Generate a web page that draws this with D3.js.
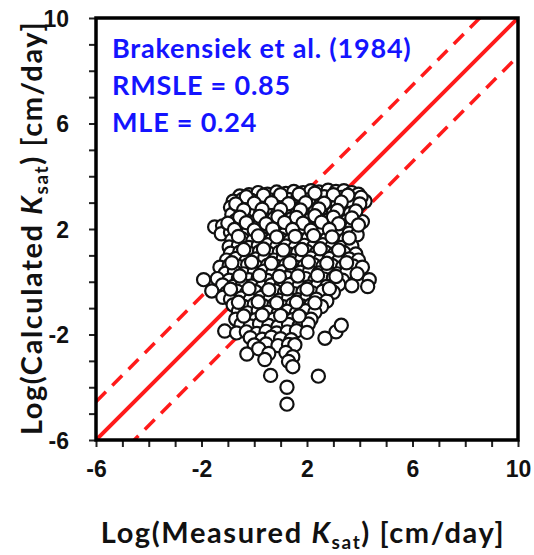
<!DOCTYPE html>
<html>
<head>
<meta charset="utf-8">
<script src="https://cdn.jsdelivr.net/npm/d3@7"></script>
<style>
  html, body { margin: 0; padding: 0; background: #fff; }
  svg { display: block; font-family: Lato, "Open Sans", "DejaVu Sans", sans-serif; }
</style>
</head>
<body>
<svg id="chart" width="534" height="555"></svg>
<script>
// ---- data ----
const axisDomain = [-6, 10];
const tickValues = [-6, -5, -4, -3, -2, -1, 0, 1, 2, 3, 4, 5, 6, 7, 8, 9, 10];
const tickLabels = ["-6", "-2", "2", "6", "10"];
const boundOffset = 1.45;   // dashed lines: 1:1 line shifted up / down
const annotations = ["Brakensiek et al. (1984)", "RMSLE = 0.85", "MLE = 0.24"];

// [Log(Measured Ksat), Log(Calculated Ksat)]
const points = [
  [-0.55,3.25],[-0.2,3.3],[0.15,3.38],[0.5,3.32],[0.85,3.4],[1.2,3.35],[1.5,3.42],[1.85,3.38],[2.15,3.45],[2.45,3.4],[2.8,3.47],[3.1,3.42],[3.4,3.45],[3.7,3.38],[3.95,3.32],
  [-0.8,3.05],[-0.45,3.12],[-0.1,3.08],[0.3,3.15],[0.6,3.1],[0.95,3.18],[1.3,3.12],[1.65,3.2],[2.0,3.1],[2.3,3.18],[2.65,3.22],[2.95,3.12],[3.3,3.2],[3.6,3.15],[3.9,3.1],[4.2,3.05],
  [-0.9,2.82],[-0.6,2.9],[-0.25,2.85],[0.1,2.8],[0.45,2.92],[0.8,2.86],[1.1,2.8],[1.45,2.9],[1.8,2.84],[2.1,2.95],[2.5,2.88],[2.8,2.82],[3.15,2.9],[3.45,2.85],[3.75,2.92],
  [-0.85,2.55],[-0.5,2.62],[-0.15,2.58],[0.25,2.65],[0.55,2.56],[0.9,2.62],[1.25,2.68],[1.6,2.55],[1.95,2.6],[2.3,2.66],[2.65,2.58],[3.0,2.62],[3.3,2.55],[3.65,2.6],
  [-0.7,2.32],[-0.35,2.38],[0.05,2.3],[0.4,2.36],[0.75,2.4],[1.05,2.32],[1.4,2.38],[1.75,2.3],[2.1,2.35],[2.45,2.4],[2.8,2.33],[3.15,2.38],[3.5,2.3],[3.85,2.35],[4.1,2.28],
  [-1.5,2.08],[-1.2,2.12],[-0.85,2.05],[-0.5,2.12],[-0.1,2.08],[0.2,2.15],[0.6,2.05],[0.95,2.12],[1.3,2.08],[1.65,2.14],[2.0,2.05],[2.35,2.1],[2.7,2.15],[3.0,2.06],[3.35,2.12],[3.7,2.08],
  [-1.25,1.82],[-0.9,1.88],[-0.6,1.8],[-0.25,1.86],[0.1,1.9],[0.45,1.82],[0.8,1.88],[1.15,1.8],[1.5,1.86],[1.85,1.9],[2.2,1.82],[2.55,1.88],[2.9,1.8],[3.25,1.86],[3.6,1.84],[3.9,1.78],
  [-0.85,1.58],[-0.45,1.62],[-0.05,1.56],[0.3,1.64],[0.65,1.58],[1.0,1.62],[1.35,1.55],[1.7,1.6],[2.05,1.65],[2.4,1.58],[2.75,1.62],[3.1,1.56],[3.45,1.6],
  [-0.95,1.32],[-0.6,1.38],[-0.2,1.3],[0.15,1.36],[0.5,1.4],[0.85,1.32],[1.2,1.36],[1.55,1.3],[1.9,1.38],[2.25,1.33],[2.6,1.4],[2.95,1.34],[3.3,1.3],[3.7,1.36],
  [-0.9,1.08],[-0.55,1.12],[-0.15,1.06],[0.2,1.14],[0.55,1.08],[0.95,1.12],[1.3,1.05],[1.65,1.1],[2.0,1.15],[2.35,1.08],[2.7,1.12],[3.05,1.06],[3.4,1.1],[3.85,1.05],
  [-1.05,0.82],[-0.7,0.88],[-0.3,0.8],[0.05,0.86],[0.4,0.9],[0.75,0.82],[1.1,0.88],[1.45,0.8],[1.8,0.86],[2.15,0.9],[2.5,0.83],[2.85,0.88],[3.2,0.8],[3.6,0.86],[3.95,0.82],
  [-1.3,0.55],[-0.95,0.62],[-0.6,0.58],[-0.25,0.64],[0.1,0.56],[0.5,0.62],[0.85,0.58],[1.2,0.64],[1.55,0.56],[1.9,0.6],[2.25,0.65],[2.6,0.58],[2.95,0.62],[3.35,0.56],[3.75,0.6],[4.1,0.55],
  [-1.1,0.32],[-0.75,0.38],[-0.4,0.3],[0.0,0.36],[0.35,0.4],[0.7,0.32],[1.05,0.38],[1.4,0.3],[1.75,0.36],[2.1,0.4],[2.45,0.33],[2.8,0.38],[3.15,0.3],[3.5,0.35],[3.9,0.3],
  [-1.92,0.08],[-1.4,0.12],[-0.95,0.06],[-0.6,0.12],[-0.2,0.08],[0.15,0.14],[0.5,0.05],[0.9,0.1],[1.25,0.15],[1.6,0.08],[1.95,0.12],[2.3,0.06],[2.65,0.1],[3.0,0.14],[3.35,0.06],[4.36,0.08],
  [-1.2,-0.12],[-0.8,-0.18],[-0.45,-0.1],[-0.1,-0.16],[0.3,-0.2],[0.65,-0.12],[1.0,-0.18],[1.35,-0.1],[1.7,-0.16],[2.05,-0.2],[2.4,-0.13],[2.75,-0.18],[3.2,-0.1],[3.7,-0.15],[4.3,-0.18],
  [-1.61,-0.35],[-1.05,-0.42],[-0.65,-0.36],[-0.3,-0.44],[0.05,-0.38],[0.45,-0.42],[0.8,-0.35],[1.15,-0.4],[1.5,-0.45],[1.85,-0.38],[2.2,-0.42],[2.6,-0.36],[3.0,-0.4],
  [-1.19,-0.59],[-0.9,-0.66],[-0.5,-0.62],[-0.15,-0.68],[0.25,-0.6],[0.6,-0.66],[0.95,-0.7],[1.3,-0.62],[1.65,-0.68],[2.0,-0.6],[2.35,-0.66],[2.75,-0.73],
  [-0.8,-0.88],[-0.4,-0.94],[0.0,-0.86],[0.35,-0.92],[0.75,-0.88],[1.1,-0.95],[1.45,-0.86],[1.8,-0.92],[2.15,-0.88],[2.55,-0.94],
  [-0.6,-1.12],[-0.25,-1.18],[0.15,-1.1],[0.5,-1.16],[0.9,-1.2],[1.25,-1.12],[1.6,-1.18],[1.95,-1.1],[2.3,-1.16],
  [-0.7,-1.42],[-0.35,-1.36],[0.05,-1.44],[0.4,-1.38],[0.75,-1.42],[1.1,-1.36],[1.45,-1.44],[1.8,-1.38],[2.15,-1.42],
  [-0.5,-1.62],[-0.15,-1.68],[0.2,-1.6],[0.55,-1.66],[0.9,-1.7],[1.3,-1.62],[1.7,-1.68],[2.05,-1.6],
  [-1.12,-1.87],[-0.67,-1.94],[-0.3,-1.9],[0.1,-1.96],[0.45,-1.88],[0.85,-1.94],[1.25,-1.9],[1.6,-1.86],[2.0,-1.92],[3.1,-1.9],[3.3,-1.65],
  [-0.15,-2.12],[0.3,-2.18],[0.65,-2.1],[1.0,-2.16],[1.4,-2.2],[2.68,-2.14],
  [0.0,-2.4],[0.45,-2.36],[0.9,-2.42],[1.3,-2.38],[1.54,-2.39],
  [-0.28,-2.74],[0.17,-2.54],[0.55,-2.72],[1.2,-2.68],[1.46,-2.84],
  [0.4,-2.95],[1.3,-3.02],[1.46,-3.22],
  [0.62,-3.55],[2.43,-3.58],[1.24,-4.0],[1.24,-4.64],
  // second, overlapping layer inside the dense core
  [-0.3,3.22],[0.35,3.28],[1.0,3.3],[1.7,3.32],[2.3,3.36],[3.0,3.3],[3.55,3.28],[4.05,3.2],
  [-0.7,2.95],[0.0,2.98],[0.65,3.0],[1.3,2.96],[1.95,3.0],[2.65,2.98],[3.3,3.02],[4.0,2.95],
  [-0.4,2.72],[0.3,2.75],[1.0,2.74],[1.75,2.72],[2.45,2.76],[3.15,2.7],[3.85,2.68],
  [-0.55,2.45],[0.2,2.48],[0.9,2.46],[1.6,2.44],[2.3,2.5],[3.0,2.45],[3.7,2.42],
  [-1.0,2.22],[-0.3,2.24],[0.45,2.2],[1.15,2.25],[1.85,2.22],[2.55,2.26],[3.2,2.2],[3.95,2.15],
  [-0.75,1.98],[0.0,1.96],[0.7,2.0],[1.45,1.98],[2.15,1.95],[2.85,1.98],
  [-0.6,1.72],[0.15,1.74],[0.85,1.7],[1.55,1.72],[2.25,1.75],[2.95,1.7],[3.6,1.66],
  [-0.4,1.22],[0.35,1.24],[1.1,1.2],[1.8,1.22],[2.5,1.25],[3.2,1.2],
  [-0.85,0.72],[-0.1,0.74],[0.65,0.7],[1.35,0.72],[2.05,0.75],[2.75,0.7],[3.5,0.72],
  [-0.55,0.22],[0.2,0.24],[0.95,0.2],[1.65,0.22],[2.4,0.24],[3.1,0.2],
  [-0.9,-0.28],[-0.2,-0.26],[0.55,-0.3],[1.25,-0.27],[2.0,-0.28],[2.85,-0.26],
  [-0.6,-0.78],[0.15,-0.76],[0.85,-0.8],[1.6,-0.78],[2.3,-0.8],
  [-0.4,-1.3],[0.3,-1.26],[1.0,-1.28],[1.7,-1.3]
];

// ---- drawing ----
const svg = d3.select("#chart");
const x = d3.scaleLinear().domain(axisDomain).range([96, 518]);
const y = d3.scaleLinear().domain(axisDomain).range([440, 18]);

svg.append("defs").append("clipPath").attr("id", "plotclip")
  .append("rect")
  .attr("x", x(axisDomain[0])).attr("y", y(axisDomain[1]))
  .attr("width", x(axisDomain[1]) - x(axisDomain[0]))
  .attr("height", y(axisDomain[0]) - y(axisDomain[1]));

const fmt = d => tickLabels.includes(String(d)) ? String(d) : "";

// axes
const xAxis = svg.append("g").attr("transform", `translate(0,${y(axisDomain[0])})`)
  .call(d3.axisBottom(x).tickValues(tickValues).tickFormat(fmt).tickSize(7).tickPadding(14));
const yAxis = svg.append("g").attr("transform", `translate(${x(axisDomain[0])},0)`)
  .call(d3.axisLeft(y).tickValues(tickValues).tickFormat(fmt).tickSize(7).tickPadding(20));
[xAxis, yAxis].forEach(g => {
  g.select(".domain").remove();
  g.selectAll(".tick line").attr("stroke", "#222").attr("stroke-width", 2);
  g.selectAll(".tick text").attr("fill", "#111").style("font-size", "23px").style("font-weight", "900");
});
yAxis.selectAll(".tick text").attr("dy", "0.36em");

const plot = svg.append("g").attr("clip-path", "url(#plotclip)");

// 1:1 line and bounds
const lineGen = d3.line().x(d => x(d[0])).y(d => y(d[1]));
const lineData = off => axisDomain.map(v => [v, v + off]);
plot.append("path").datum(lineData(boundOffset)).attr("d", lineGen)
  .attr("stroke", "#ff1a1a").attr("stroke-width", 3.5).attr("stroke-dasharray", "14,9").attr("fill", "none");
plot.append("path").datum(lineData(-boundOffset)).attr("d", lineGen)
  .attr("stroke", "#ff1a1a").attr("stroke-width", 3.5).attr("stroke-dasharray", "14,9").attr("fill", "none");
plot.append("path").datum(lineData(0)).attr("d", lineGen)
  .attr("stroke", "#ff1a1a").attr("stroke-width", 4).attr("fill", "none");

// points
plot.selectAll("circle").data(points).enter().append("circle")
  .attr("cx", d => x(d[0])).attr("cy", d => y(d[1]))
  .attr("r", 6.6).attr("fill", "#fff").attr("stroke", "#111").attr("stroke-width", 2.2);

// frame
svg.append("rect")
  .attr("x", x(axisDomain[0])).attr("y", y(axisDomain[1]))
  .attr("width", x(axisDomain[1]) - x(axisDomain[0]))
  .attr("height", y(axisDomain[0]) - y(axisDomain[1]))
  .attr("fill", "none").attr("stroke", "#000").attr("stroke-width", 3.5);

// annotations
const ann = svg.append("g").attr("fill", "#1414ff").style("font-weight", "bold")
  .style("font-size", "27px").style("letter-spacing", "0.8px");
annotations.forEach((t, i) => {
  ann.append("text").attr("x", 112).attr("y", 58 + i * 37).text(t);
});

// axis titles
const xt = svg.append("text").attr("x", 303).attr("y", 543).attr("text-anchor", "middle")
  .style("font-size", "29px").style("font-weight", "bold").style("letter-spacing", "1.6px").attr("fill", "#111");
xt.append("tspan").text("Log(Measured ");
xt.append("tspan").style("font-style", "italic").text("K");
xt.append("tspan").style("font-size", "19px").attr("dy", 6).text("sat");
xt.append("tspan").attr("dy", -6).text(") [cm/day]");

const yt = svg.append("text").attr("transform", "translate(42,228) rotate(-90)").attr("text-anchor", "middle")
  .style("font-size", "29px").style("font-weight", "bold").style("letter-spacing", "1.6px").attr("fill", "#111");
yt.append("tspan").text("Log(Calculated ");
yt.append("tspan").style("font-style", "italic").text("K");
yt.append("tspan").style("font-size", "19px").attr("dy", 6).text("sat");
yt.append("tspan").attr("dy", -6).text(") [cm/day]");
</script>
</body>
</html>
